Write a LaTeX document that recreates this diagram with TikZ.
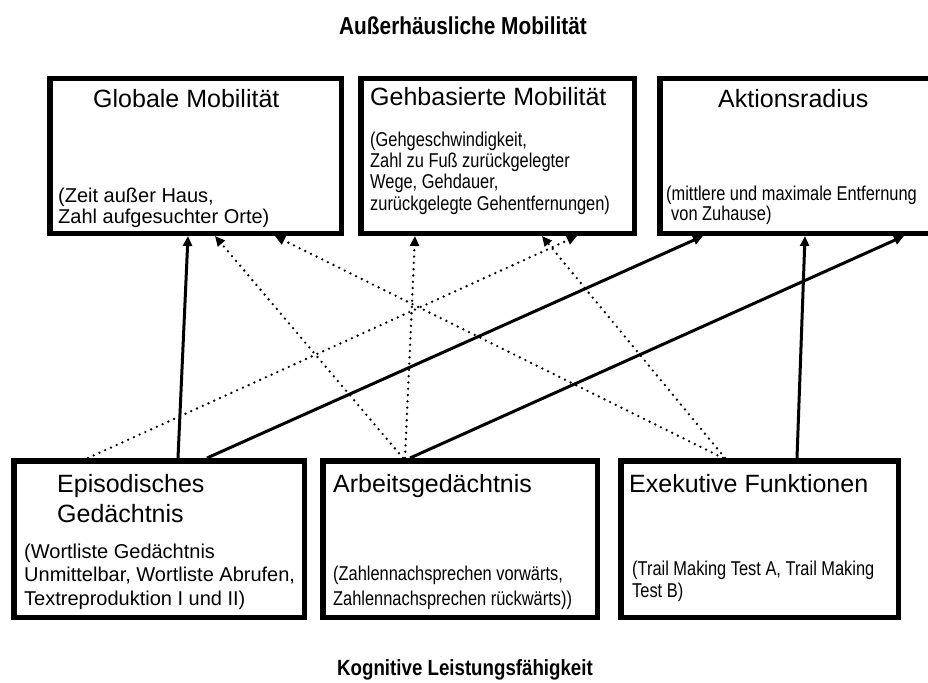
\documentclass[tikz,border=0pt]{standalone}
\usepackage{fontspec}
\setmainfont{Liberation Sans}
\newfontfamily\narrowsans[FakeStretch=0.82]{Liberation Sans}
\newfontfamily\headsans[FakeStretch=0.85]{Liberation Sans}
\usetikzlibrary{arrows.meta}

\begin{document}
\begin{tikzpicture}[x = {(1pt,0pt)},
	y = {(0pt,-1pt)},
	box/.style = {draw, line width=5.5pt, minimum height=154.5pt, inner sep=0pt},
	headline/.style = {font=\headsans\fontsize{#1}{26}\selectfont\bfseries, anchor=base, inner sep=0pt},
	headline/.default = 24.5,
	boxhead/.style = {font=\fontsize{25}{30}\selectfont, anchor=base west, inner sep=0pt, align=left},
	boxnote/.style = {font=\fontsize{20}{#1}\selectfont, anchor=base west, inner sep=0pt, align=left},
	boxnote/.default = 21.3,
	narrownote/.style = {boxnote=#1, font=\narrowsans\fontsize{20}{#1}\selectfont},
	narrownote/.default = 21.3,
	strong/.style = {-{Triangle[length=10pt,width=9pt]}, line width=3pt},
	weak/.style = {-{Triangle[length=10pt,width=9pt]}, line width=2.6pt, line cap=round, dash pattern=on 0pt off 6.3pt}]
	\useasboundingbox (0,0) rectangle (928,682);
	
	\node[headline] (mob) at (463,35) {Außerhäusliche Mobilität};
	\node[headline=22] (kog) at (465,675) {Kognitive Leistungsfähigkeit};
	
	\node[box, minimum width=291.5pt] (glob) at (195.5,156) {};
	\node[box, minimum width=273.5pt] (geh) at (497.5,156) {};
	\node[box, minimum width=273.5pt] (akt) at (796.5,156) {};
	\node[box, minimum width=290.5pt, minimum height=156.5pt] (epi) at (159,539) {};
	\node[box, minimum width=274.5pt, minimum height=156.5pt] (arb) at (460,539) {};
	\node[box, minimum width=277.5pt, minimum height=156.5pt] (exe) at (759.5,539) {};
	
	% text nodes sit on the baseline of their last line
	\node[boxhead] (glob-h) at (93,107) {Globale Mobilität};
	\node[boxnote=21] (glob-n) at (58,223) {(Zeit außer Haus,\\Zahl aufgesuchter Orte)};
	
	\node[boxhead] (geh-h) at (370,106) {Gehbasierte Mobilität};
	\node[narrownote] (geh-n) at (370,210) {(Gehgeschwindigkeit,\\Zahl zu Fuß zurückgelegter\\Wege, Gehdauer,\\zurückgelegte Gehentfernungen)};
	
	\node[boxhead] (akt-h) at (718,107) {Aktionsradius};
	\node[narrownote=20] (akt-n) at (666,220) {(mittlere und maximale Entfernung\\\hspace*{5pt}von Zuhause)};
	
	\node[boxhead] (epi-h) at (57,522) {Episodisches\\Gedächtnis};
	\node[boxnote=23.5] (epi-n) at (24,605) {(Wortliste Gedächtnis\\Unmittelbar, Wortliste Abrufen,\\Textreproduktion I und II)};
	
	\node[boxhead] (arb-h) at (333,492) {Arbeitsgedächtnis};
	\node[narrownote=25] (arb-n) at (333,605) {(Zahlennachsprechen vorwärts,\\Zahlennachsprechen rückwärts))};
	
	\node[boxhead] (exe-h) at (629,492) {Exekutive Funktionen};
	\node[narrownote=22] (exe-n) at (632,597) {(Trail Making Test A, Trail Making\\Test B)};
	
	\draw[strong] ([xshift=167pt]epi.north west) -- ([xshift=141pt]glob.south west);
	\draw[weak] ([xshift=77pt]epi.north west) -- ([xshift=219pt]geh.south west);
	\draw[strong] ([xshift=196pt]epi.north west) -- ([xshift=46pt]akt.south west);
	
	\draw[weak] ([xshift=83pt]arb.north west) -- ([xshift=168pt]glob.south west);
	\draw[weak] ([xshift=85pt]arb.north west) -- ([xshift=57pt]geh.south west);
	\draw[strong] ([xshift=90pt]arb.north west) -- ([xshift=247pt]akt.south west);
	
	\draw[weak] ([xshift=105pt]exe.north west) -- ([xshift=228pt]glob.south west);
	\draw[weak] ([xshift=107pt]exe.north west) -- ([xshift=184pt]geh.south west);
	\draw[strong] ([xshift=179pt]exe.north west) -- ([xshift=148pt]akt.south west);
\end{tikzpicture}
\end{document}
